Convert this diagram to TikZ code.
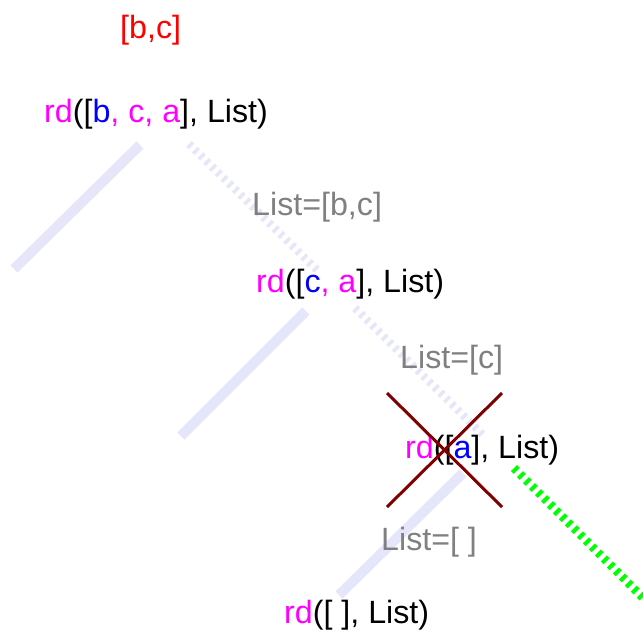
\documentclass[tikz,border=0pt]{standalone}
\usepackage{fontspec}
\setmainfont{Liberation Sans}
\definecolor{lav}{RGB}{230,230,250}
\definecolor{mag}{RGB}{255,0,255}
\definecolor{blu}{RGB}{0,0,255}
\definecolor{rd}{RGB}{255,0,0}
\definecolor{gry}{RGB}{128,128,128}
\definecolor{maroonx}{RGB}{128,0,0}
\definecolor{lime}{RGB}{0,255,0}
\begin{document}
\begin{tikzpicture}[x=1pt,y=-1pt,
  txt/.style={anchor=base west,inner sep=0pt,font=\fontsize{32.2}{38}\selectfont},
  lbl/.style={txt,text=gry},
  solidedge/.style={draw=lav,line width=10pt},
  dashedge/.style={draw=lav,line width=8pt,dash pattern=on 3.5pt off 4.5pt},
  greenedge/.style={draw=lime,line width=8.5pt,dash pattern=on 4pt off 4.5pt},
  cross/.style={draw=maroonx,line width=3pt}]
\clip (0,0) rectangle (643,638);
\fill[white] (0,0) rectangle (643,638);
% edge end points
\coordinate (s1a) at (140,145);
\coordinate (s1b) at (14,269);
\coordinate (d1a) at (189,144);
\coordinate (d1b) at (318,271);
\coordinate (s2a) at (306,311);
\coordinate (s2b) at (181,436);
\coordinate (d2a) at (355,308);
\coordinate (d2b) at (484,436);
\coordinate (s3a) at (463,473);
\coordinate (s3b) at (339,595);
\coordinate (ga) at (514,468);
\coordinate (gb) at (665,620);
\coordinate (x1) at (387,393);
\coordinate (x2) at (502,507);
\coordinate (x3) at (502,393);
\coordinate (x4) at (387,507);
% edges
\draw[solidedge] (s1a) -- (s1b);
\draw[dashedge] (d1a) -- (d1b);
\draw[solidedge] (s2a) -- (s2b);
\draw[dashedge] (d2a) -- (d2b);
\draw[solidedge] (s3a) -- (s3b);
\draw[greenedge] (ga) -- (gb);
% texts
\node[txt,text=rd] (res) at (120,38) {[b,c]};
\node[txt] (n1) at (44,122) {\textcolor{mag}{rd}([\textcolor{blu}{b}\textcolor{mag}{, c, a}], List)};
\node[lbl] (l1) at (252,215) {List=[b,c]};
\node[txt] (n2) at (256,292) {\textcolor{mag}{rd}([\textcolor{blu}{c}\textcolor{mag}{, a}], List)};
\node[lbl] (l2) at (400,368) {List=[c]};
\node[txt] (n3) at (405,458) {\textcolor{mag}{rd}([\textcolor{blu}{a}], List)};
\node[lbl] (l3) at (381,550) {List=[ ]};
\node[txt] (n4) at (284,623) {\textcolor{mag}{rd}([ ], List)};
% cross
\draw[cross] (x1) -- (x2);
\draw[cross] (x3) -- (x4);
\end{tikzpicture}
\end{document}
